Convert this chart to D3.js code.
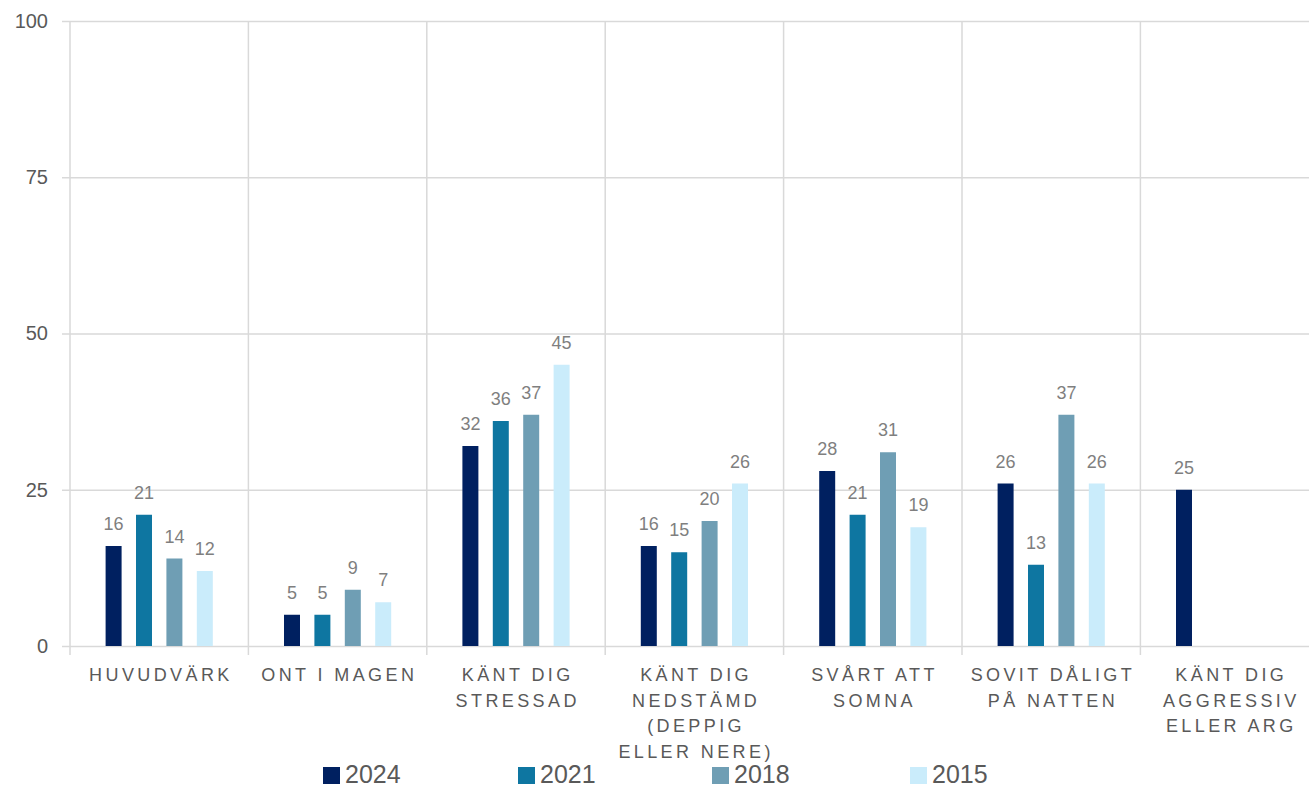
<!DOCTYPE html>
<html>
<head>
<meta charset="utf-8">
<script src="https://cdn.jsdelivr.net/npm/d3@7"></script>
<style>
  html, body { margin: 0; padding: 0; background: #ffffff; }
  svg { display: block; font-family: "Liberation Sans", Arial, sans-serif; }
</style>
</head>
<body>
<svg id="chart" width="1309" height="789"></svg>
<script>
// Symptom categories (label lines split with "|")
const categories = [
  "HUVUDVÄRK",
  "ONT I MAGEN",
  "KÄNT DIG|STRESSAD",
  "KÄNT DIG|NEDSTÄMD|(DEPPIG|ELLER NERE)",
  "SVÅRT ATT|SOMNA",
  "SOVIT DÅLIGT|PÅ NATTEN",
  "KÄNT DIG|AGGRESSIV|ELLER ARG"
];
const years = ["2024", "2021", "2018", "2015"];
const values2024 = [16, 5, 32, 16, 28, 26, 25];
const values2021 = [21, 5, 36, 15, 21, 13, null];
const values2018 = [14, 9, 37, 20, 31, 37, null];
const values2015 = [12, 7, 45, 26, 19, 26, null];
const yTicks = [0, 25, 50, 75, 100];
const colors = ["#002060", "#0e76a1", "#6f9eb4", "#caecfb"];

const seriesValues = [values2024, values2021, values2018, values2015];

const svg = d3.select("#chart");
const plotLeft = 70, plotRight = 1318.8, plotTop = 21, plotBottom = 646;
const gridColor = "#d9d9d9";

const x = d3.scaleBand().domain(categories).range([plotLeft, plotRight]).padding(0);
const xInner = d3.scaleBand().domain(years).range([0, x.bandwidth()])
  .paddingInner(0.474).paddingOuter(1.171);
const y = d3.scaleLinear().domain([0, 100]).range([plotBottom, plotTop]);

// Horizontal gridlines with y-axis tick labels
const yAxis = d3.axisLeft(y).tickValues(yTicks).tickSize(-(1309 - plotLeft + 10)).tickPadding(14);
const gy = svg.append("g").attr("transform", `translate(${plotLeft},0)`).call(yAxis);
gy.select(".domain").remove();
gy.selectAll(".tick line").attr("stroke", gridColor).attr("stroke-width", 1.5)
  .attr("x1", -8);
gy.selectAll(".tick text").attr("fill", "#595959").style("font-size", "20px")
  .style("font-family", "'Liberation Sans', Arial, sans-serif")
  .attr("x", -22);

// Vertical separators between categories (extending slightly below the baseline)
const bounds = categories.map(c => x(c)).concat([plotRight]);
svg.append("g").selectAll("line").data(bounds).join("line")
  .attr("x1", d => d).attr("x2", d => d)
  .attr("y1", plotTop).attr("y2", plotBottom + 9)
  .attr("stroke", gridColor).attr("stroke-width", 1.5);

// Bars and value labels
years.forEach((yr, si) => {
  const data = categories.map((c, i) => ({ c, v: seriesValues[si][i] })).filter(d => d.v != null);
  const g = svg.append("g");
  g.selectAll("rect").data(data).join("rect")
    .attr("x", d => x(d.c) + xInner(yr))
    .attr("width", xInner.bandwidth())
    .attr("y", d => y(d.v))
    .attr("height", d => y(0) - y(d.v))
    .attr("fill", colors[si]);
  g.selectAll("text").data(data).join("text")
    .attr("x", d => x(d.c) + xInner(yr) + xInner.bandwidth() / 2)
    .attr("y", d => y(d.v) - 16)
    .attr("text-anchor", "middle")
    .attr("fill", "#7f7f7f")
    .style("font-size", "18px")
    .text(d => d.v);
});

// Category labels
const labels = svg.append("g").selectAll("text").data(categories).join("text")
  .attr("text-anchor", "middle")
  .attr("fill", "#595959")
  .style("font-size", "18px")
  .style("letter-spacing", "3.4px");
labels.each(function (c) {
  const t = d3.select(this);
  c.split("|").forEach((line, i) => {
    t.append("tspan")
      .attr("x", x(c) + x.bandwidth() / 2 + 1.7)
      .attr("y", 681 + i * 25.5)
      .text(line);
  });
});

// Legend
const legendX = [323, 518, 712, 910];
const lg = svg.append("g").selectAll("g").data(years).join("g")
  .attr("transform", (d, i) => `translate(${legendX[i]},0)`);
lg.append("rect").attr("x", 0).attr("y", 767).attr("width", 17).attr("height", 17)
  .attr("fill", (d, i) => colors[i]);
lg.append("text").attr("x", 22).attr("y", 783)
  .attr("fill", "#595959").style("font-size", "25px")
  .text(d => d);
</script>
</body>
</html>
